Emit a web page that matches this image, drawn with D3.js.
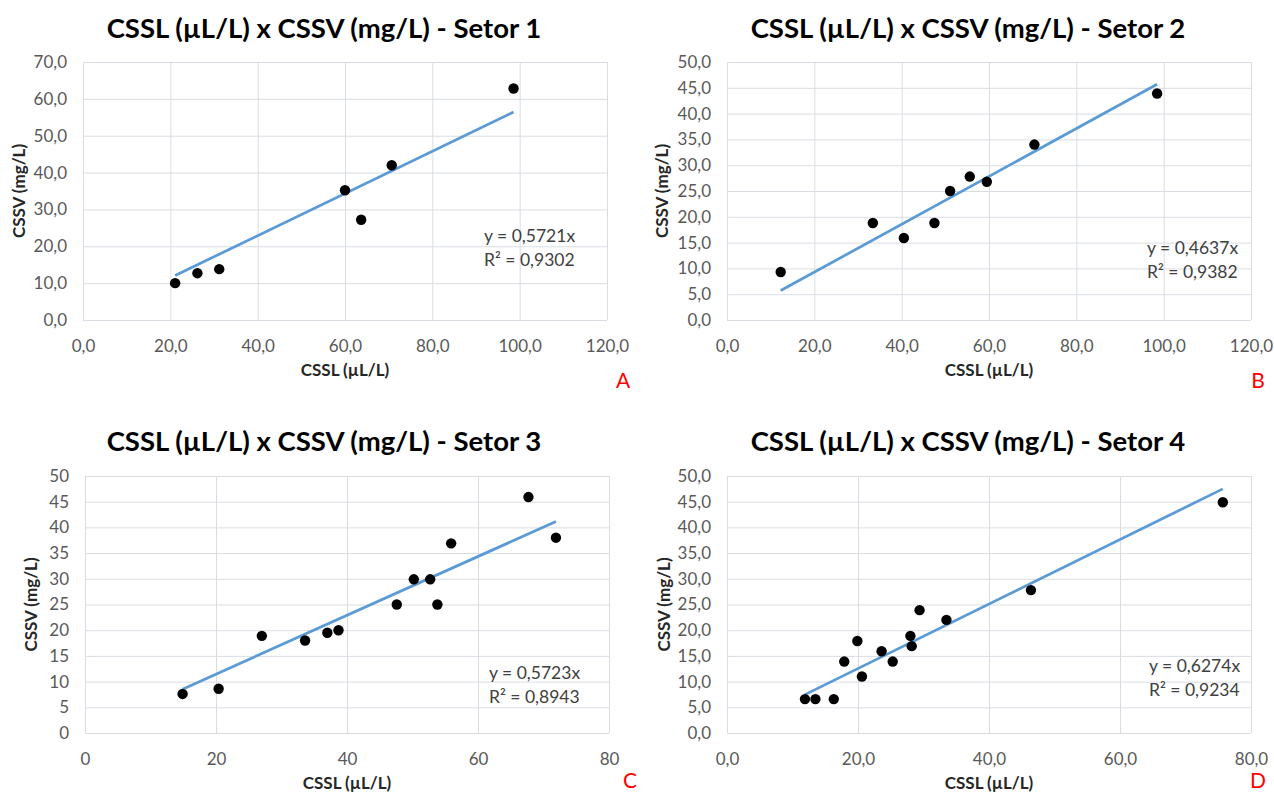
<!DOCTYPE html>
<html>
<head>
<meta charset="utf-8">
<script src="https://cdn.jsdelivr.net/npm/d3@7"></script>
<style>
  body { margin: 0; background: #fff; }
  svg { display: block; font-family: Lato, "Open Sans", sans-serif; }
</style>
</head>
<body>
<svg id="chart"></svg>
<script>
const containerWidth = 1274;
const containerHeight = 794;

// data
const setor1X = [21.1, 26.2, 31.2, 60.0, 63.7, 70.7, 98.6];
const setor1Y = [10.0, 12.7, 13.8, 35.2, 27.2, 42.0, 62.8];

const setor2X = [12.3, 33.4, 40.5, 47.5, 51.1, 55.6, 59.5, 70.4, 98.5];
const setor2Y = [9.3, 18.8, 15.9, 18.8, 25.0, 27.8, 26.8, 34.0, 43.9];

const setor3X = [14.9, 20.4, 27.0, 33.6, 37.0, 38.7, 47.6, 50.2, 52.7, 53.8, 55.9, 67.7, 71.9];
const setor3Y = [7.6, 8.6, 18.9, 18.0, 19.5, 20.0, 25.0, 29.9, 29.9, 25.0, 36.9, 45.9, 38.0];

const setor4X = [11.9, 13.5, 16.3, 17.9, 19.9, 20.6, 23.6, 25.3, 28.0, 28.2, 29.4, 33.5, 46.4, 75.7];
const setor4Y = [6.6, 6.6, 6.6, 13.9, 17.9, 11.0, 15.9, 13.9, 18.9, 16.9, 23.9, 22.0, 27.8, 44.9];

const slopes = [0.5721, 0.4637, 0.5723, 0.6274];
const r2Labels = ["0,9302", "0,9382", "0,8943", "0,9234"];
const titles = [
  "CSSL (µL/L) x CSSV (mg/L) - Setor 1",
  "CSSL (µL/L) x CSSV (mg/L) - Setor 2",
  "CSSL (µL/L) x CSSV (mg/L) - Setor 3",
  "CSSL (µL/L) x CSSV (mg/L) - Setor 4"
];
const panelLetters = ["A", "B", "C", "D"];

const xTicks12 = [0, 20, 40, 60, 80, 100, 120];
const xTicks34 = [0, 20, 40, 60, 80];
const yTicks1 = [0, 10, 20, 30, 40, 50, 60, 70];
const yTicks234 = [0, 5, 10, 15, 20, 25, 30, 35, 40, 45, 50];

const xLabel = "CSSL (µL/L)";
const yLabel = "CSSV (mg/L)";

// layout of the four panels (plot rectangles, in px)
const panels = [
  {xs: setor1X, ys: setor1Y, xt: xTicks12, yt: yTicks1, dec: 1,
   left: 83, right: 607, top: 62, bottom: 320, titleX: 324, titleY: 38,
   ylabX: 25, eqX: 484, eqY: 242, letX: 623, letY: 388},
  {xs: setor2X, ys: setor2Y, xt: xTicks12, yt: yTicks234, dec: 1,
   left: 727, right: 1251, top: 62, bottom: 320, titleX: 968, titleY: 38,
   ylabX: 668, eqX: 1147, eqY: 254, letX: 1258, letY: 388},
  {xs: setor3X, ys: setor3Y, xt: xTicks34, yt: yTicks234, dec: 0,
   left: 85, right: 609, top: 476, bottom: 733, titleX: 324, titleY: 451,
   ylabX: 37, eqX: 489, eqY: 679, letX: 630, letY: 788},
  {xs: setor4X, ys: setor4Y, xt: xTicks34, yt: yTicks234, dec: 1,
   left: 727, right: 1251, top: 476, bottom: 733, titleX: 968, titleY: 451,
   ylabX: 670, eqX: 1149, eqY: 672, letX: 1258, letY: 788}
];

const svg = d3.select("#chart")
  .attr("width", containerWidth)
  .attr("height", containerHeight);

const gridColor = "#d9dde3";
const tickColor = "#595959";

panels.forEach((p, i) => {
  const fmt = (v) => d3.format(p.dec ? ".1f" : "d")(v).replace(".", ",");

  const xScale = d3.scaleLinear()
    .domain(d3.extent(p.xt))
    .range([p.left, p.right]);
  const yScale = d3.scaleLinear()
    .domain(d3.extent(p.yt))
    .range([p.bottom, p.top]);

  const g = svg.append("g");

  // gridlines
  g.append("g")
    .attr("transform", `translate(0,${p.bottom})`)
    .call(d3.axisBottom(xScale).tickValues(p.xt).tickSize(-(p.bottom - p.top)).tickFormat(""))
    .call(a => a.select(".domain").remove())
    .call(a => a.selectAll("line").attr("stroke", gridColor).attr("stroke-width", 1));
  g.append("g")
    .attr("transform", `translate(${p.left},0)`)
    .call(d3.axisLeft(yScale).tickValues(p.yt).tickSize(-(p.right - p.left)).tickFormat(""))
    .call(a => a.select(".domain").remove())
    .call(a => a.selectAll("line").attr("stroke", gridColor).attr("stroke-width", 1));

  // tick labels
  g.append("g")
    .attr("transform", `translate(0,${p.bottom})`)
    .call(d3.axisBottom(xScale).tickValues(p.xt).tickSize(0).tickPadding(20).tickFormat(fmt))
    .call(a => a.select(".domain").remove())
    .call(a => a.selectAll("text")
      .attr("fill", tickColor).style("font-size", "17px").style("font-family", "Lato"));
  g.append("g")
    .attr("transform", `translate(${p.left},0)`)
    .call(d3.axisLeft(yScale).tickValues(p.yt).tickSize(0).tickPadding(16).tickFormat(fmt))
    .call(a => a.select(".domain").remove())
    .call(a => a.selectAll("text")
      .attr("fill", tickColor).style("font-size", "17px").style("font-family", "Lato"));

  // trendline through origin, from min x to max x
  const xMin = d3.min(p.xs), xMax = d3.max(p.xs);
  const trend = [[xMin, slopes[i] * xMin], [xMax, slopes[i] * xMax]];
  g.append("path")
    .datum(trend)
    .attr("fill", "none")
    .attr("stroke", "#5b9bd5")
    .attr("stroke-width", 2.75)
    .attr("d", d3.line().x(d => xScale(d[0])).y(d => yScale(d[1])));

  // points
  g.selectAll("circle")
    .data(p.xs.map((x, k) => [x, p.ys[k]]))
    .join("circle")
    .attr("cx", d => xScale(d[0]))
    .attr("cy", d => yScale(d[1]))
    .attr("r", 5.2)
    .attr("fill", "#000");

  // equation
  const eq = g.append("text")
    .attr("x", p.eqX)
    .attr("y", p.eqY)
    .attr("fill", "#404040")
    .style("font-size", "17.5px");
  eq.append("tspan").attr("x", p.eqX).text(`y = ${String(slopes[i]).replace(".", ",")}x`);
  eq.append("tspan").attr("x", p.eqX).attr("dy", 24).text(`R² = ${r2Labels[i]}`);

  // title
  g.append("text")
    .attr("x", p.titleX)
    .attr("y", p.titleY)
    .attr("text-anchor", "middle")
    .attr("fill", "#000")
    .style("font-size", "27.5px")
    .style("font-weight", "bold")
    .text(titles[i]);

  // axis titles
  g.append("text")
    .attr("x", (p.left + p.right) / 2)
    .attr("y", p.bottom + 56)
    .attr("text-anchor", "middle")
    .attr("fill", "#262626")
    .style("font-size", "17px")
    .style("font-weight", "bold")
    .text(xLabel);
  g.append("text")
    .attr("transform", `translate(${p.ylabX},${(p.top + p.bottom) / 2}) rotate(-90)`)
    .attr("text-anchor", "middle")
    .attr("fill", "#262626")
    .style("font-size", "17px")
    .style("font-weight", "bold")
    .text(yLabel);

  // panel letter
  g.append("text")
    .attr("x", p.letX)
    .attr("y", p.letY)
    .attr("text-anchor", "middle")
    .attr("fill", "#ff0000")
    .style("font-size", "21px")
    .text(panelLetters[i]);
});
</script>
</body>
</html>
